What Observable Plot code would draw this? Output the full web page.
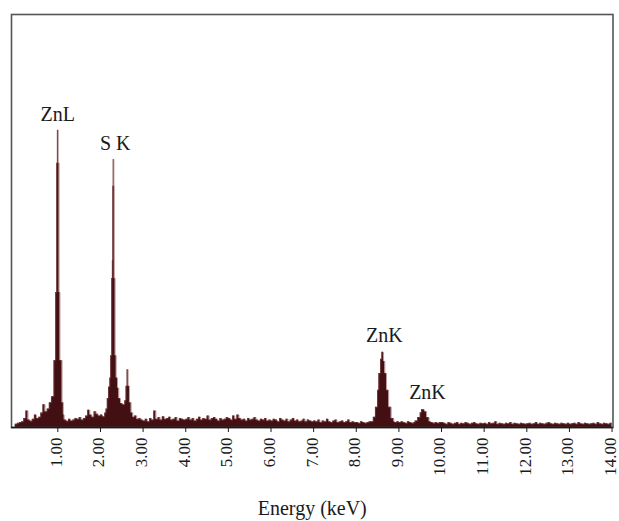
<!DOCTYPE html>
<html>
<head>
<meta charset="utf-8">
<script src="https://cdn.jsdelivr.net/npm/d3@7"></script>
<script src="https://cdn.jsdelivr.net/npm/@observablehq/plot@0.6"></script>
<style>
  html, body { margin: 0; padding: 0; background: #fff; }
  #chart svg { display: block; }
</style>
</head>
<body>
<div id="chart"></div>
<script>
// ---- Data ----
// Background spectrum: channels every 0.05 keV starting at 0.00 keV (counts, arbitrary units 0..1000)
const bgStart = 0.0;
const bgStep = 0.05;
const bgCounts = [
  // 0.00 - 0.95
  8, 10, 12, 14, 22, 40, 18, 15, 20, 30, 22, 25, 35, 55, 38, 45, 60, 72, 75, 110,
  // 1.00 - 1.95
  120, 60, 22, 18, 15, 20, 16, 18, 22, 20, 24, 18, 22, 28, 42, 30, 25, 38, 32, 28,
  // 2.00 - 2.95
  30, 26, 35, 60, 95, 120, 150, 110, 90, 62, 55, 60, 80, 70, 35, 25, 28, 20, 22, 18,
  // 3.00 - 3.95
  16, 20, 14, 22, 18, 40, 20, 24, 18, 26, 20, 22, 25, 18, 20, 24, 16, 22, 20, 18,
  // 4.00 - 4.95
  20, 24, 18, 22, 16, 20, 25, 18, 22, 20, 28, 18, 22, 24, 20, 16, 22, 18, 20, 24,
  // 5.00 - 5.95
  22, 18, 28, 20, 30, 22, 18, 20, 16, 22, 18, 20, 24, 18, 16, 20, 18, 22, 16, 18,
  // 6.00 - 6.95
  16, 20, 18, 14, 22, 18, 16, 20, 14, 18, 22, 16, 18, 14, 16, 20, 14, 18, 16, 14,
  // 7.00 - 7.95
  16, 14, 18, 12, 16, 14, 20, 14, 12, 16, 18, 12, 14, 16, 12, 14, 18, 12, 14, 12,
  // 8.00 - 8.95
  12, 10, 14, 12, 10, 12, 14, 10, 14, 16, 18, 20, 20, 20, 20, 20, 18, 16, 12, 14,
  // 9.00 - 9.95
  12, 14, 12, 10, 14, 12, 10, 12, 14, 16, 16, 16, 16, 14, 14, 12, 10, 12, 10, 12,
  // 10.00 - 10.95
  12, 10, 8, 12, 10, 8, 10, 12, 8, 10, 9, 12, 10, 8, 10, 12, 9, 8, 10, 9,
  // 11.00 - 11.95
  10, 8, 12, 9, 10, 14, 8, 10, 9, 8, 10, 9, 12, 8, 10, 9, 8, 10, 9, 8,
  // 12.00 - 12.95
  9, 10, 8, 9, 12, 8, 10, 9, 8, 10, 12, 9, 8, 10, 9, 8, 10, 9, 8, 10,
  // 13.00 - 13.95
  8, 9, 10, 8, 12, 9, 8, 10, 9, 8, 9, 10, 8, 12, 9, 8, 10, 9, 8, 10,
  // 14.00
  9
];

// Peak regions, finer sampling (energy keV, counts)
const znLE = [0.86, 0.91, 0.95, 0.975, 0.99, 1.01, 1.03, 1.05, 1.10, 1.13];
const znLV = [75, 162, 327, 640, 720, 640, 327, 162, 60, 30];

const sKE = [2.13, 2.16, 2.19, 2.22, 2.24, 2.265, 2.28, 2.29, 2.30, 2.315, 2.325, 2.345, 2.37, 2.40, 2.43, 2.47, 2.52, 2.57, 2.60, 2.625, 2.65, 2.68, 2.72, 2.76];
const sKV = [45, 70, 98, 120, 174, 361, 404, 584, 649, 584, 361, 174, 120, 95, 70, 58, 55, 65, 100, 140, 100, 60, 35, 25];

const znK1E = [8.33, 8.40, 8.45, 8.50, 8.53, 8.57, 8.60, 8.64, 8.67, 8.71, 8.76, 8.82, 8.88];
const znK1V = [14, 25, 49, 90, 131, 165, 182, 160, 131, 90, 49, 22, 14];

const znK2E = [9.38, 9.44, 9.50, 9.53, 9.60, 9.65, 9.71];
const znK2V = [16, 24, 36, 43, 38, 24, 14];

// Peak labels
const labelText = ["ZnL", "S K", "ZnK", "ZnK"];
const labelE = [1.0, 2.345, 8.66, 9.67];
const labelV = [741, 671, 206, 70];

// Axis ticks
const tickValues = [1, 2, 3, 4, 5, 6, 7, 8, 9, 10, 11, 12, 13, 14];
const xTitle = "Energy (keV)";

// ---- Build spectrum table ----
const peaks = [[znLE, znLV], [sKE, sKV], [znK1E, znK1V], [znK2E, znK2V]];
const ranges = peaks.map(([e]) => [e[0], e[e.length - 1]]);
let spectrum = bgCounts
  .map((v, i) => ({E: +(bgStart + i * bgStep).toFixed(3), v}))
  .filter(d => !ranges.some(([a, b]) => d.E >= a && d.E <= b));
for (const [e, vals] of peaks) e.forEach((x, i) => spectrum.push({E: x, v: vals[i]}));
spectrum.sort((a, b) => a.E - b.E);

const labels = labelText.map((t, i) => ({t, E: labelE[i], v: labelV[i]}));

const font = "'Liberation Serif', 'DejaVu Serif', serif";

const chart = Plot.plot({
  width: 619,
  height: 521,
  marginLeft: 11,
  marginRight: 6.5,
  marginTop: 14,
  marginBottom: 94,
  style: {fontFamily: font, background: "#fff", color: "#1a1a1a"},
  x: {domain: [-0.087, 14.022], axis: null},
  y: {domain: [0, 1000], axis: null},
  marks: [
    Plot.areaY(spectrum, {x: "E", y: "v", curve: "step-after", fill: "#420f12", clip: true}),
    Plot.lineY(spectrum, {x: "E", y: "v", curve: "step-after", stroke: "#8e4a4c", strokeWidth: 0.8, strokeOpacity: 0.7, clip: true}),
    Plot.frame({stroke: "#555", strokeWidth: 1.6}),
    Plot.ruleY([0], {stroke: "#1a1a1a", strokeWidth: 1.6}),
    // tick marks
    Plot.axisX(tickValues, {
      tickSize: 5,
      tickFormat: () => "",
      stroke: "#1a1a1a",
      label: null
    }),
    // tick labels (rotated)
    Plot.axisX(tickValues, {
      tickSize: 0,
      tickPadding: 10,
      tickFormat: d => d.toFixed(2),
      tickRotate: -90,
      fontSize: 17,
      fontFamily: font,
      fill: "#1a1a1a",
      dx: -1.5,
      label: null
    }),
    Plot.text(labels, {x: "E", y: "v", text: "t", fontSize: 20, fontFamily: font, fill: "#1a1a1a", lineAnchor: "bottom", textAnchor: "middle"}),
    Plot.text([xTitle], {frameAnchor: "bottom", text: d => d, dy: 87, lineAnchor: "bottom", fontSize: 20, fontFamily: font, fill: "#1a1a1a"})
  ]
});
document.getElementById("chart").appendChild(chart);
</script>
</body>
</html>
